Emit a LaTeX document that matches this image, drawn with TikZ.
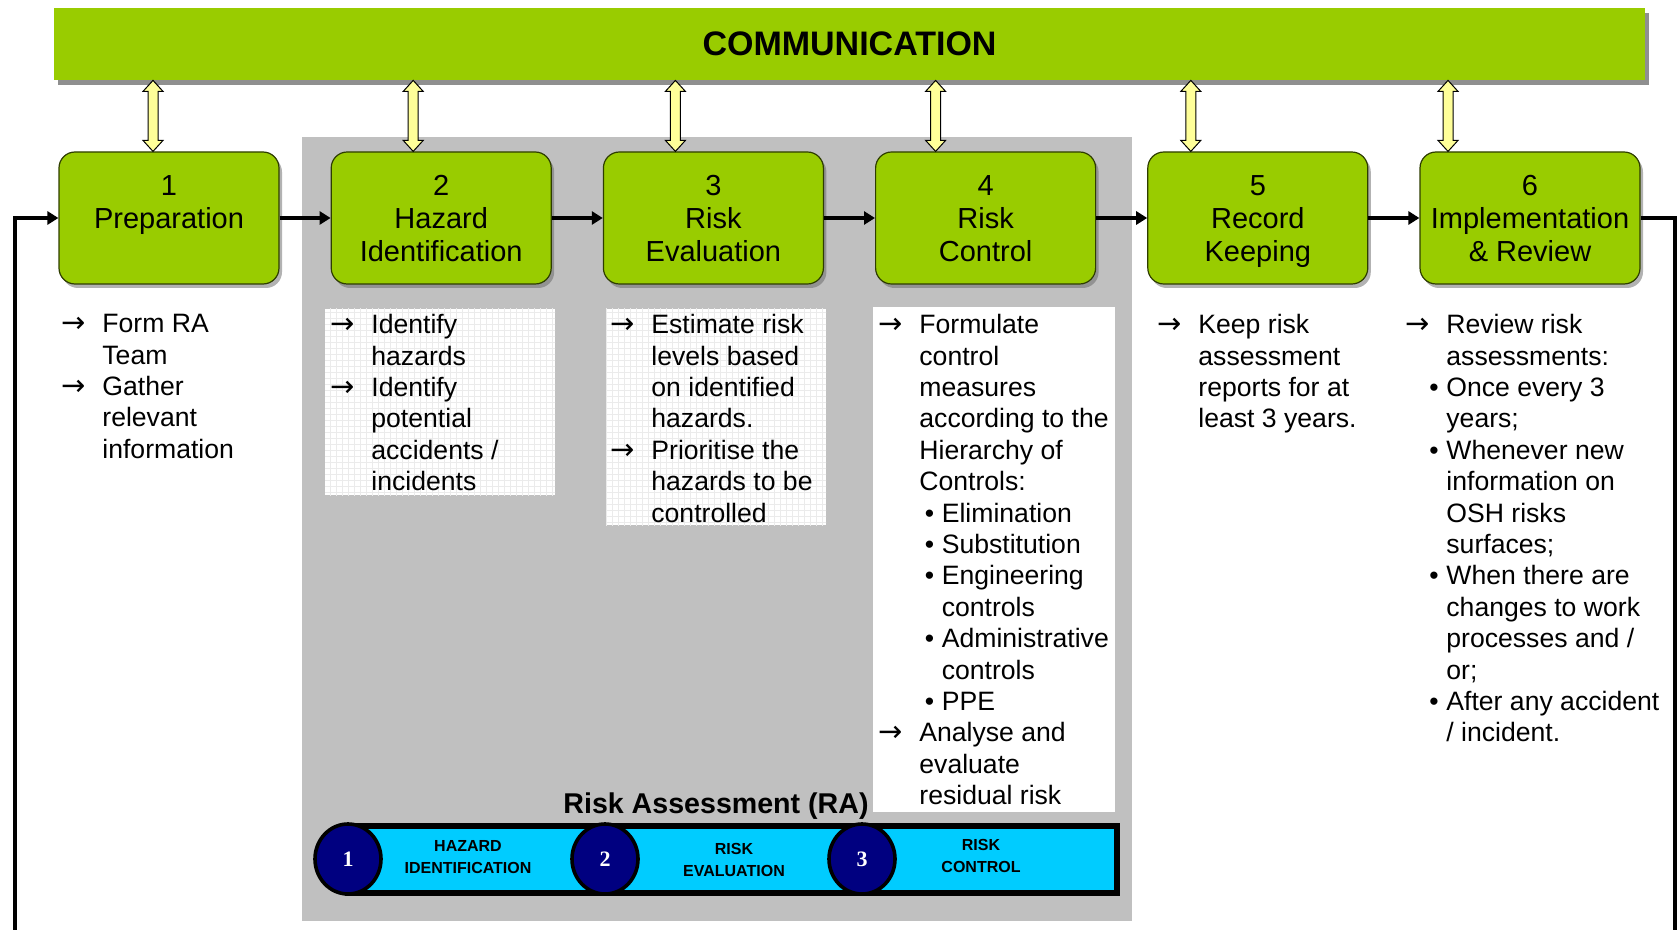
\documentclass[tikz,border=0pt]{standalone}
\usepackage{fontspec}
\setmainfont{Liberation Sans}
\newfontfamily\symfont{DejaVu Sans}
\newfontfamily\numfont{Liberation Serif}
\usetikzlibrary{arrows.meta, calc, positioning, shadows, shapes.geometric, patterns}

\definecolor{stepgreen}{HTML}{99CC00}
\definecolor{linkyellow}{HTML}{FFFF99}
\definecolor{raband}{HTML}{00CCFF}
\definecolor{ranavy}{HTML}{000080}
\definecolor{ragray}{HTML}{C0C0C0}

% line starts in the notes below the steps
\newcommand{\arr}{\makebox[20.5pt][l]{\symfont\fontsize{14.5}{14.5}\selectfont →}}
\newcommand{\ind}{\hspace*{20.5pt}}
\newcommand{\subbul}{\hspace*{2.7pt}\makebox[8.5pt][l]{\textbullet}}
\newcommand{\subind}{\hspace*{11.2pt}}
\newcommand{\revbul}{\hspace*{12pt}\makebox[8.5pt][l]{\textbullet}}
% keeps the three title lines at the same height in every step
\newcommand{\tallline}{\rule{0pt}{15.4pt}}

% yellow two-way arrow between the banner and a step
\newcommand{\commlink}[2]{%
  \filldraw[linkarrow] let \p1=([xshift=#2]#1.north), \p2=(comm.south) in
    (\x1,\y2) -- (\x1+5pt,\y2-5.5pt) -- (\x1+2.5pt,\y2-5.5pt) -- (\x1+2.5pt,\y1+5.5pt)
    -- (\x1+5pt,\y1+5.5pt) -- (\x1,\y1) -- (\x1-5pt,\y1+5.5pt) -- (\x1-2.5pt,\y1+5.5pt)
    -- (\x1-2.5pt,\y2-5.5pt) -- (\x1-5pt,\y2-5.5pt) -- cycle;}

\begin{document}
\begin{tikzpicture}[x=0.5pt, y=-0.5pt,
    banner/.style={rectangle, fill=stepgreen, minimum width=795.5pt, minimum height=36pt,
      font=\fontsize{17}{20}\bfseries,
      drop shadow={shadow xshift=2pt, shadow yshift=-2.5pt, fill=black!55, opacity=0.8}},
    stepbox/.style={rectangle, rounded corners=8pt, draw=black!70!stepgreen, line width=0.6pt,
      fill=stepgreen, minimum width=110pt, minimum height=66pt, align=center,
      font=\fontsize{14.5}{16.5}\selectfont,
      drop shadow={shadow xshift=1.5pt, shadow yshift=-2pt, fill=black!60, opacity=0.5}},
    linkarrow/.style={fill=linkyellow, draw=black, line width=0.5pt},
    flow/.style={line width=1.8pt, -{Triangle[length=5.5pt, width=6.5pt]}},
    backline/.style={line width=1.8pt},
    notes/.style={anchor=north west, inner sep=0pt, align=left,
      font=\fontsize{13.3}{15.7}\selectfont},
    gridbg/.style={fill=white, postaction={pattern=grid, pattern color=black!8}},
    rastep/.style={ellipse, fill=ranavy, draw=black, line width=1.8pt, inner sep=0pt,
      minimum width=33pt, minimum height=35pt, text=white,
      font=\numfont\bfseries\fontsize{11}{11}\selectfont},
    ralabel/.style={align=center, font=\fontsize{8}{10.7}\bfseries}]

  \useasboundingbox (0,0) rectangle (1680,930);

  % risk assessment area
  \fill[ragray] (302,137) rectangle (1132,921);

  \node[banner] (comm) at (849.5,44) {COMMUNICATION};

  \node[stepbox] (p1) at (169,218) {\tallline 1\\Preparation\\\strut};
  \node[stepbox, right=25.5pt of p1] (p2) {\tallline 2\\Hazard\\Identification\strut};
  \node[stepbox, right=25.5pt of p2] (p3) {\tallline 3\\Risk\\Evaluation\strut};
  \node[stepbox, right=25.5pt of p3] (p4) {\tallline 4\\Risk\\Control\strut};
  \node[stepbox, right=25.5pt of p4] (p5) {\tallline 5\\Record\\Keeping\strut};
  \node[stepbox, right=25.5pt of p5] (p6) {\tallline 6\\Implementation\\\& Review\strut};

  \foreach \i/\dx in {1/-8pt, 2/-14pt, 3/-19pt, 4/-25pt, 5/-33.5pt, 6/-41pt}
    \commlink{p\i}{\dx};

  \foreach \a/\b in {p1/p2, p2/p3, p3/p4, p4/p5, p5/p6}
    \draw[flow] (\a) -- (\b);

  % back to the start
  \coordinate (loopR) at (1675,930);
  \coordinate (loopL) at (15,930);
  \draw[backline] (p6.east) -| (loopR);
  \draw[flow] (loopL) |- (p1.west);

  \fill[gridbg] (325,309) rectangle (555,495);
  \fill[gridbg] (606,309) rectangle (826,525);
  \fill[white] (873,307) rectangle (1115,812);

  \node[notes] (t1) at (61,314) {\arr Form RA\\ \ind Team\\ \arr Gather\\ \ind relevant\\
    \ind information};
  \node[notes] (t2) at (330,314) {\arr Identify\\ \ind hazards\\ \arr Identify\\
    \ind potential\\ \ind accidents /\\ \ind incidents};
  \node[notes] (t3) at (610,314) {\arr Estimate risk\\ \ind levels based\\
    \ind on identified\\ \ind hazards.\\ \arr Prioritise the\\ \ind hazards to be\\
    \ind controlled};
  \node[notes] (t4) at (878,314) {\arr Formulate\\ \ind control\\ \ind measures\\
    \ind according to the\\ \ind Hierarchy of\\ \ind Controls:\\
    \ind\subbul Elimination\\ \ind\subbul Substitution\\ \ind\subbul Engineering\\
    \ind\subind controls\\ \ind\subbul Administrative\\ \ind\subind controls\\
    \ind\subbul PPE\\ \arr Analyse and\\ \ind evaluate\\ \ind residual risk};
  \node[notes] (t5) at (1157,314) {\arr Keep risk\\ \ind assessment\\
    \ind reports for at\\ \ind least 3 years.};
  \node[notes] (t6) at (1405,314) {\arr Review risk\\ \ind assessments:\\
    \revbul Once every 3\\ \ind years;\\ \revbul Whenever new\\ \ind information on\\
    \ind OSH risks\\ \ind surfaces;\\ \revbul When there are\\ \ind changes to work\\
    \ind processes and /\\ \ind or;\\ \revbul After any accident\\ \ind / incident.};

  % RA bar
  \node[font=\fontsize{14.3}{16}\bfseries] (ratitle) at (716,806) {Risk Assessment (RA)};
  \filldraw[fill=raband, draw=black, line width=3pt] (348,826) rectangle (1117,893);
  \node[rastep] (r1) at (348,859) {1};
  \node[rastep] (r2) at (605,859) {2};
  \node[rastep] (r3) at (862,859) {3};
  \node[ralabel] (l1) at (468,857) {HAZARD\\IDENTIFICATION};
  \node[ralabel] (l2) at (734,860) {RISK\\EVALUATION};
  \node[ralabel] (l3) at (981,856) {RISK\\CONTROL};
\end{tikzpicture}
\end{document}
